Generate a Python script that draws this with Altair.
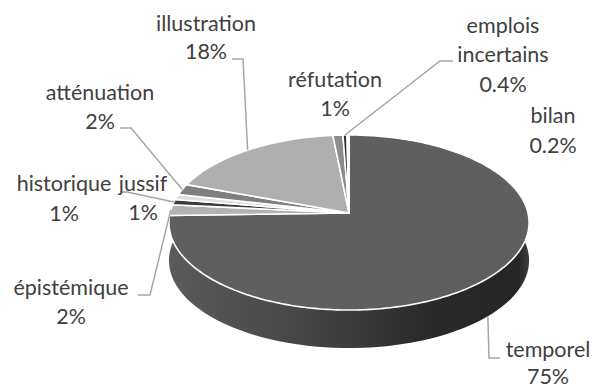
import math
import altair as alt

# Speech-act shares, clockwise from twelve o'clock
categories = ["temporel", "épistémique", "historique", "jussif", "atténuation",
              "illustration", "réfutation", "emplois incertains", "bilan"]
shares = [75, 2, 1, 1, 2, 18, 1, 0.4, 0.2]
share_labels = ["75%", "2%", "1%", "1%", "2%", "18%", "1%", "0.4%", "0.2%"]
slice_colors = ["#5f5f5f", "#b2b2b2", "#3a3a3a", "#dedede", "#7f7f7f",
                "#afafaf", "#8c8c8c", "#2e2e2e", "#ffffff"]

# Perspective disc: apex, half axes, foreshortening, rim depth
CX, CY = 349, 213
AX, AY, K = 179, 86.5, 0.1086
DEPTH = 38


def disc_point(angle, drop=0):
    u, v = math.sin(angle), math.cos(angle)
    w = 1 + K * v
    return [CX + AX * u / w, CY - AY * v / w + drop]


def feature(name, ring):
    return {"type": "Feature", "properties": {"name": name},
            "geometry": {"type": "Polygon", "coordinates": [ring + [ring[0]]]}}


total = sum(shares)
edges = [0.0]
for s in shares:
    edges.append(edges[-1] + s / total * 2 * math.pi)
mids = [(a + b) / 2 for a, b in zip(edges, edges[1:])]

slices = []
for name, a, b in zip(categories, edges, edges[1:]):
    n = max(2, int((b - a) * 60))
    ring = [[CX, CY]] + [disc_point(a + (b - a) * i / n) for i in range(n + 1)]
    slices.append(feature(name, ring))

# Visible wall of the disc: front rim from right extreme round to the left
front = [math.radians(d) for d in range(84, 277, 2)]
wall = ([disc_point(a) for a in front]
        + [disc_point(a, DEPTH) for a in reversed(front)])

identity = alt.Projection(type="identity", scale=1, translate=[0, 0])
x_pix = alt.Scale(domain=[0, 596], range=[0, 596])
y_pix = alt.Scale(domain=[0, 389], range=[0, 389])

wall_layer = alt.Chart(alt.Data(values=[feature("wall", wall)])).mark_geoshape(
    fill=alt.Gradient(
        gradient="linear", x1=0, y1=0, x2=1, y2=0,
        stops=[alt.GradientStop(offset=0, color="#5b5b5b"),
               alt.GradientStop(offset=0.35, color="#474747"),
               alt.GradientStop(offset=0.75, color="#282828"),
               alt.GradientStop(offset=0.97, color="#262626"),
               alt.GradientStop(offset=1, color="#3c3c3c")]),
    stroke=None,
).project(**identity.to_dict())

slice_layer = alt.Chart(alt.Data(values=slices)).mark_geoshape(
    stroke="#ffffff", strokeWidth=1.6, strokeJoin="miter",
).encode(
    color=alt.Color("properties.name:N", legend=None,
                    scale=alt.Scale(domain=categories, range=slice_colors)),
).project(**identity.to_dict())

# Text blocks: category lines plus the share, each with its own centre and baselines
text_rows = []
placements = [
    ("illustration", 206, [31, 59]),
    ("atténuation", 100, [100, 129]),
    ("historique", 64, [191, 221]),
    ("jussif", 143, [191, 220]),
    ("épistémique", 71, [295, 324]),
    ("réfutation", 335, [87, 116]),
    ("emplois incertains", 503, [33, 62, 92]),
    ("bilan", 553, [123, 153]),
    ("temporel", 548, [357, 384]),
]
for name, cx, baselines in placements:
    words = name.split(" ") + [share_labels[categories.index(name)]]
    for word, base in zip(words, baselines):
        text_rows.append({"px": cx, "py": base, "t": word})

text_layer = alt.Chart(alt.Data(values=text_rows)).mark_text(
    font="Lato", fontSize=21.5, color="#404040", baseline="alphabetic", align="center",
).encode(
    x=alt.X("px:Q", scale=x_pix, axis=None),
    y=alt.Y("py:Q", scale=y_pix, axis=None),
    text="t:N",
)

# Leader lines: two fixed elbow points, then the slice's own spot on the rim
elbows = {
    "illustration": [(232, 59), (243, 59)],
    "atténuation": [(120, 128), (131, 128)],
    "historique": [(122, 192), (127, 192)],
    "épistémique": [(138, 295), (150, 295)],
    "emplois incertains": [(453, 61), (440, 61)],
    "temporel": [(500, 358), (489, 358)],
}
leader_rows = []
for name, pts in elbows.items():
    i = categories.index(name)
    drop = DEPTH if name == "temporel" else 0
    tip = disc_point(mids[i], drop)
    for order, (px, py) in enumerate(pts + [tuple(tip)]):
        leader_rows.append({"name": name, "order": order, "px": px, "py": py})

leader_layer = alt.Chart(alt.Data(values=leader_rows)).mark_line(
    color="#a6a6a6", strokeWidth=1.5,
).encode(
    x=alt.X("px:Q", scale=x_pix, axis=None),
    y=alt.Y("py:Q", scale=y_pix, axis=None),
    detail="name:N",
    order="order:Q",
)

chart = alt.layer(wall_layer, slice_layer, leader_layer, text_layer).properties(
    width=596, height=389, padding=0,
    autosize=alt.AutoSizeParams(type="none"),
    background="#ffffff",
).configure_view(stroke=None)

chart.save("out.html", embed_options={"renderer": "svg", "actions": False})
